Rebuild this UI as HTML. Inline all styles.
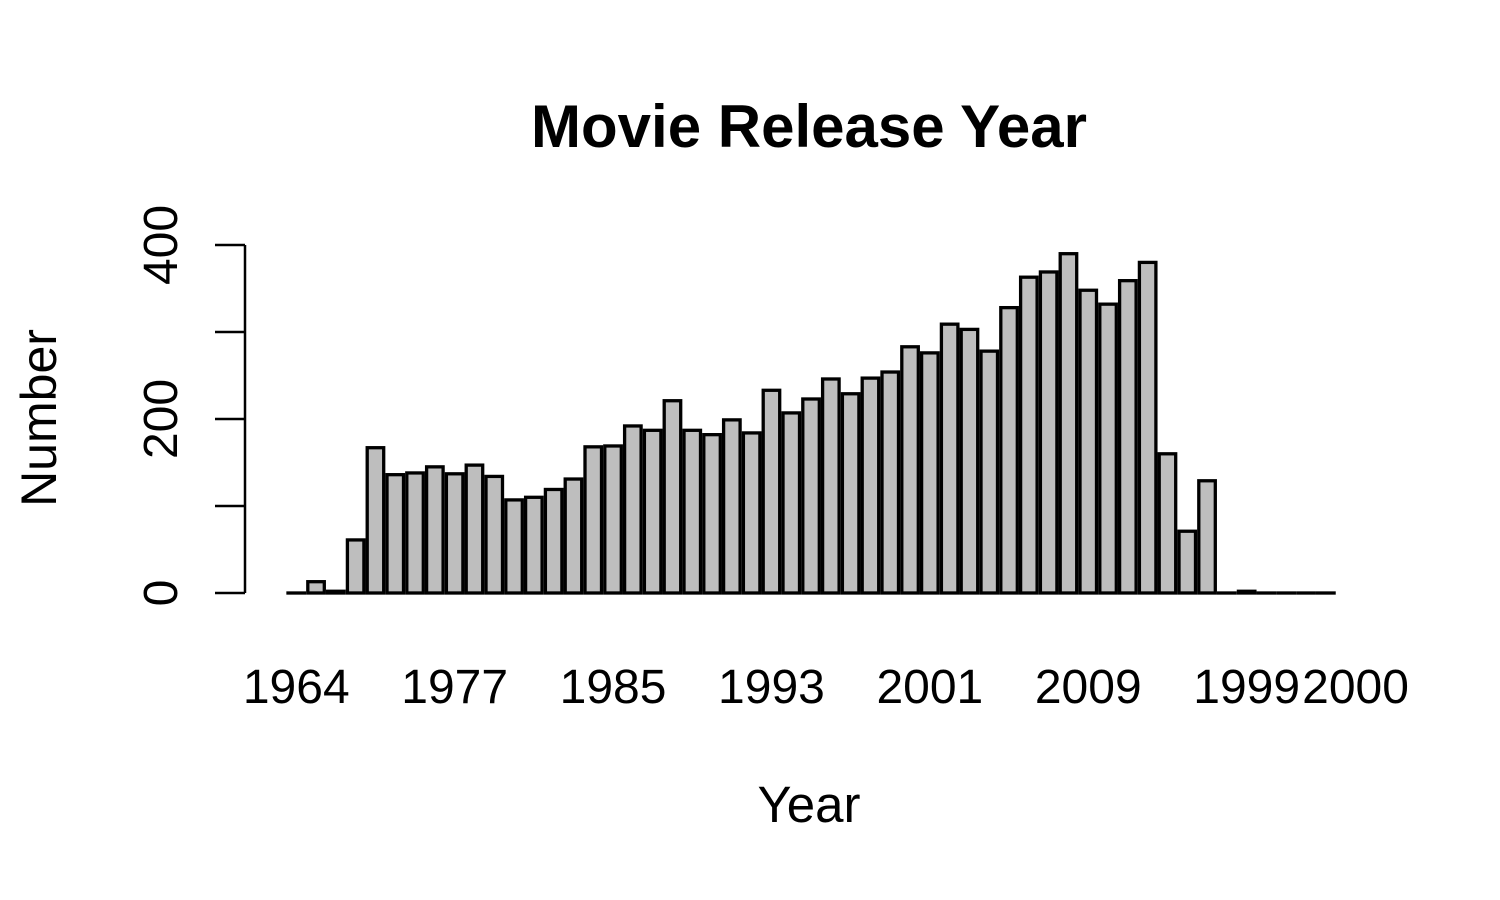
<!DOCTYPE html>
<html><head><meta charset="utf-8"><style>
body{margin:0;background:#fff}
svg{display:block;font-family:"Liberation Sans",Arial,sans-serif}
</style></head><body>
<svg id="chart" width="1500" height="900" viewBox="0 0 1500 900">
<text x="809" y="147" text-anchor="middle" font-size="60" font-weight="bold">Movie Release Year</text>
<text x="809" y="822" text-anchor="middle" font-size="51">Year</text>
<text transform="translate(56,418) rotate(-90)" text-anchor="middle" font-size="50">Number</text>
<g id="bars"></g>
<g id="yaxis"></g>
<g id="xlabels"></g>
</svg>
<script>
const counts = [0,13,2,61,167,136,138,145,137,147,134,107,110,119,131,168,169,192,187,221,187,182,199,184,233,207,223,246,229,247,254,283,276,309,303,278,328,363,369,390,348,332,359,380,160,71,129,0,2,0,0,0,0];
const yTicks = [0,100,200,300,400];
const yTickLabels = ["0","","200","","400"];
const xLabelIndex = [0,8,16,24,32,40,48,53.5];
const xLabels = ["1964","1977","1985","1993","2001","2009","1999","2000"];

const NS="http://www.w3.org/2000/svg";
const x0=288, step=19.8, bw=16.5;
const yBase=593, pxPerUnit=0.87;
const xPos=i=>x0+i*step;
const xCenter=i=>x0+i*step+bw/2;
const yPos=v=>yBase-v*pxPerUnit;
function mk(tag,attrs,parent){const e=document.createElementNS(NS,tag);for(const k in attrs)e.setAttribute(k,attrs[k]);parent.appendChild(e);return e;}
const bars=document.getElementById('bars');
counts.forEach((v,i)=>{
  const r=mk('rect',{x:xPos(i),y:yPos(v),width:bw,height:Math.max(yBase-yPos(v),0.01),fill:'#bebebe',stroke:'#000','stroke-width':3.3},bars);
  
  
});
const ya=document.getElementById('yaxis');
const axl=mk('line',{x1:245,x2:245,y1:yPos(yTicks[0]),y2:yPos(yTicks[yTicks.length-1]),stroke:'#000','stroke-width':2.5},ya);


yTicks.forEach((t,i)=>{
  const l=mk('line',{x1:215,x2:245,y1:yPos(t),y2:yPos(t),stroke:'#000','stroke-width':2.5},ya);
  
  
  if(yTickLabels[i]){
    const tx=mk('text',{transform:`translate(177,${yPos(t)}) rotate(-90)`,'text-anchor':'middle','font-size':48},ya);
    tx.textContent=yTickLabels[i];
    
    
  }
});
const xl=document.getElementById('xlabels');
xLabels.forEach((s,i)=>{
  const tx=mk('text',{x:xCenter(xLabelIndex[i]),y:703,'text-anchor':'middle','font-size':48},xl);
  tx.textContent=s;
  
  
});
</script>
</body></html>
